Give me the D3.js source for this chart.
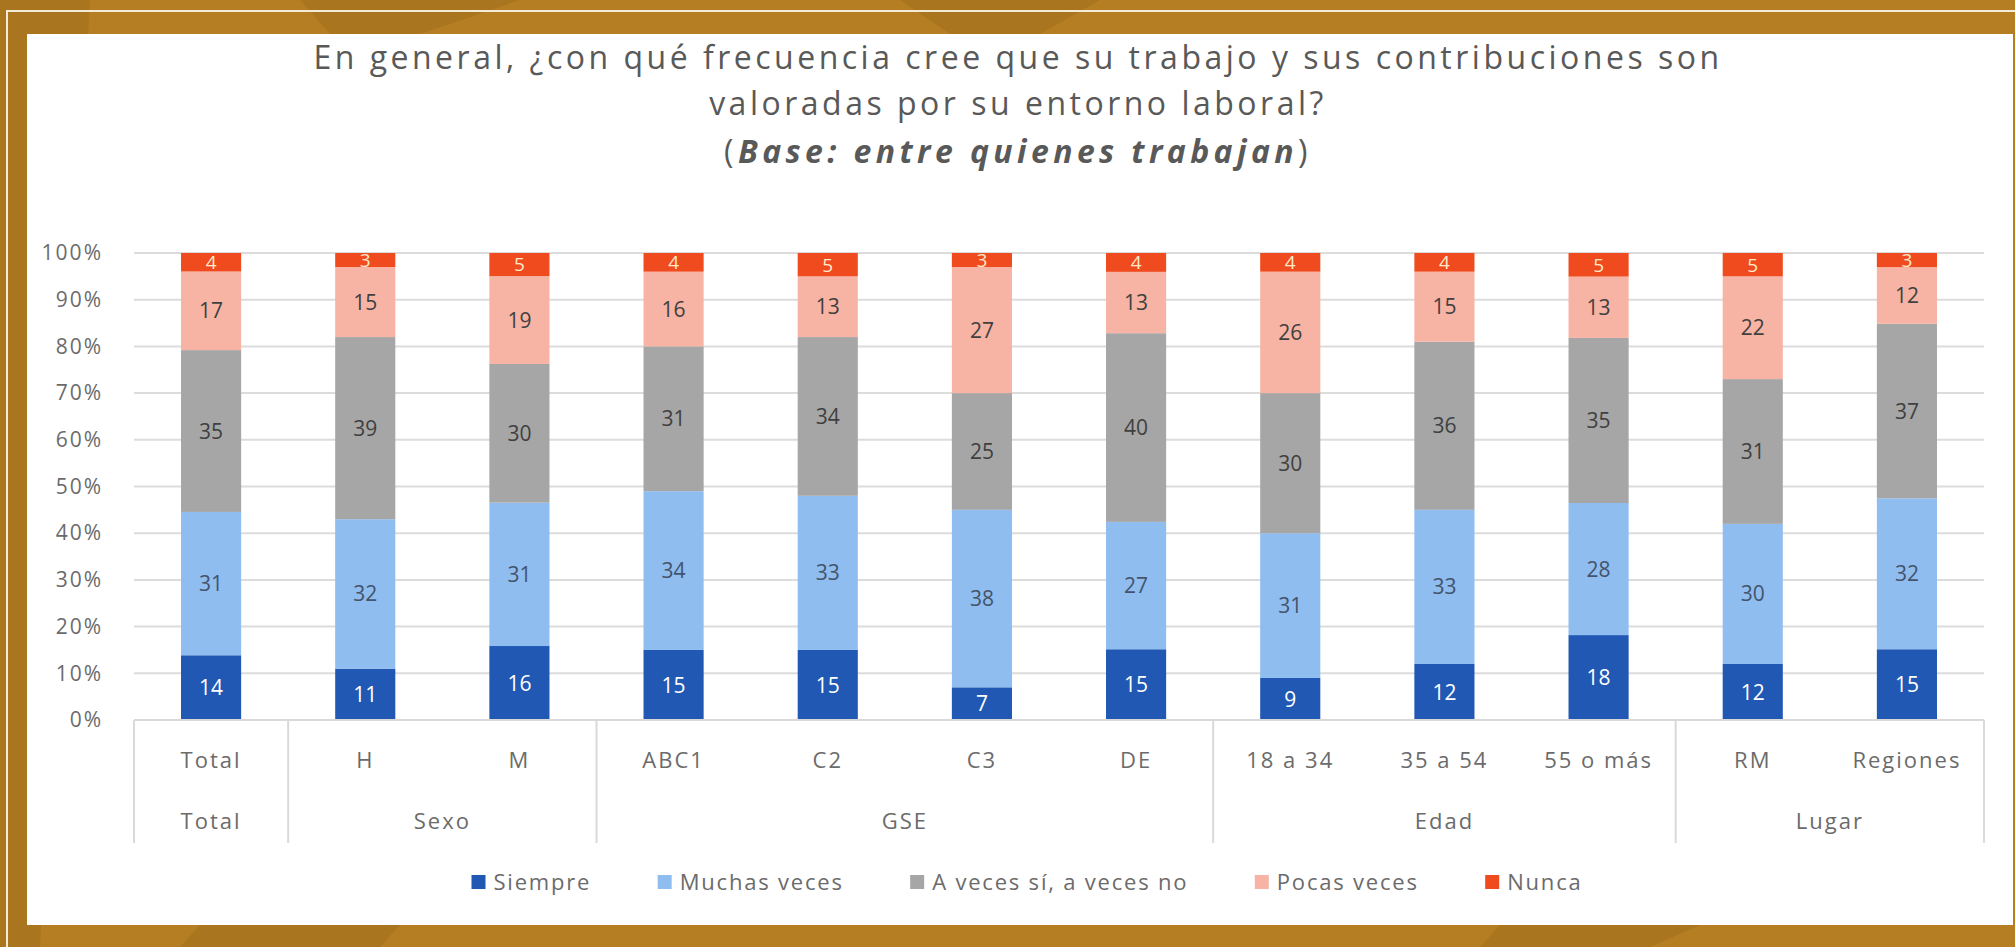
<!DOCTYPE html>
<html>
<head>
<meta charset="utf-8">
<script src="https://cdn.jsdelivr.net/npm/d3@7"></script>
<style>
  html, body { margin: 0; padding: 0; background: #b37b22; }
  svg { display: block; font-family: "Open Sans", "Noto Sans", sans-serif; }
</style>
</head>
<body>
<svg id="chart"></svg>
<script>
// categorías (nivel 1 y nivel 2)
const categories = ["Total", "H", "M", "ABC1", "C2", "C3", "DE", "18 a 34", "35 a 54", "55 o más", "RM", "Regiones"];
const groups = [
  {name: "Total", from: "Total", to: "Total"},
  {name: "Sexo", from: "H", to: "M"},
  {name: "GSE", from: "ABC1", to: "DE"},
  {name: "Edad", from: "18 a 34", to: "55 o más"},
  {name: "Lugar", from: "RM", to: "Regiones"}
];
const seriesNames = ["Siempre", "Muchas veces", "A veces sí, a veces no", "Pocas veces", "Nunca"];
const siempre     = [14, 11, 16, 15, 15, 7, 15, 9, 12, 18, 12, 15];
const muchasVeces = [31, 32, 31, 34, 33, 38, 27, 31, 33, 28, 30, 32];
const aVeces      = [35, 39, 30, 31, 34, 25, 40, 30, 36, 35, 31, 37];
const pocasVeces  = [17, 15, 19, 16, 13, 27, 13, 26, 15, 13, 22, 12];
const nunca       = [4, 3, 5, 4, 5, 3, 4, 4, 4, 5, 5, 3];
const yTicks = [0, 0.1, 0.2, 0.3, 0.4, 0.5, 0.6, 0.7, 0.8, 0.9, 1];

const colors = ["#2058b3", "#8fbdf0", "#a6a6a6", "#f7b3a4", "#ef4b1f"];
const labelColors = ["#ffffff", "#44546a", "#404040", "#404040", "#ffe9c9"];

const width = 2015, height = 947;
const svg = d3.select("#chart").attr("width", width).attr("height", height);

// fondo dorado
svg.append("rect").attr("width", width).attr("height", height).attr("fill", "#b57e23");
const tex = [
  "M0,0 L90,0 L40,947 L0,947Z",
  "M300,0 L520,0 L420,34 L330,34Z",
  "M900,0 L1100,0 L1040,34 L950,34Z",
  "M1500,925 L1700,925 L1650,947 L1480,947Z",
  "M200,925 L400,925 L380,947 L180,947Z"
];
svg.selectAll(".tex").data(tex).enter().append("path")
  .attr("d", d => d).attr("fill", "#8a5a12").attr("opacity", 0.25);
// marco blanco fino
svg.append("rect").attr("x", 7).attr("y", 11).attr("width", 2030).attr("height", 960)
  .attr("fill", "none").attr("stroke", "#f4ead8").attr("stroke-width", 2);
// panel blanco
svg.append("rect").attr("x", 27).attr("y", 34).attr("width", 1986).attr("height", 891).attr("fill", "#ffffff");

// Escalas
const x = d3.scaleBand().domain(categories).range([134, 1984]).paddingInner(0.61).paddingOuter(0.305);
const y = d3.scaleLinear().domain([0, 1]).range([720, 253]);
const step = x.step();
const left = 134, right = 1984;

// Título
const title = svg.append("g").attr("fill", "#595959").attr("text-anchor", "middle")
  .style("font-size", "32px").style("letter-spacing", "3.5px");
title.append("text").attr("x", 1018).attr("y", 69)
  .text("En general, ¿con qué frecuencia cree que su trabajo y sus contribuciones son");
title.append("text").attr("x", 1018).attr("y", 115).text("valoradas por su entorno laboral?");
const t3 = title.append("text").attr("x", 1018).attr("y", 163).style("letter-spacing", "4.4px");
t3.append("tspan").text("(");
t3.append("tspan").attr("font-weight", "bold").attr("font-style", "italic").text("Base: entre quienes trabajan");
t3.append("tspan").text(")");

// Cuadrícula
svg.append("g").selectAll("line").data(yTicks).enter().append("line")
  .attr("x1", left).attr("x2", right)
  .attr("y1", d => y(d)).attr("y2", d => y(d))
  .attr("stroke", "#dcdcdc").attr("stroke-width", 2);

// Eje Y
const yAxis = svg.append("g").attr("transform", "translate(112,0)")
  .call(d3.axisLeft(y).tickValues(yTicks).tickFormat(d3.format(".0%")).tickSize(0).tickPadding(9));
yAxis.select(".domain").remove();
yAxis.selectAll("text").attr("fill", "#6b6b6b").style("font-size", "21px")
  .style("font-family", "Open Sans").style("letter-spacing", "2px");

// Datos apilados (100%)
const rows = categories.map((c, i) => {
  const vals = [siempre[i], muchasVeces[i], aVeces[i], pocasVeces[i], nunca[i]];
  const total = d3.sum(vals);
  const r = {cat: c};
  seriesNames.forEach((s, k) => { r[s] = vals[k] / total; r["raw_" + s] = vals[k]; });
  return r;
});
const stack = d3.stack().keys(seriesNames)(rows);

const layers = svg.append("g").selectAll("g").data(stack).enter().append("g")
  .attr("fill", (d, i) => colors[i]);
layers.selectAll("rect").data(d => d).enter().append("rect")
  .attr("x", d => x(d.data.cat))
  .attr("width", x.bandwidth())
  .attr("y", d => y(d[1]))
  .attr("height", d => y(d[0]) - y(d[1]));

// Etiquetas de datos
stack.forEach((layer, i) => {
  svg.append("g").selectAll("text").data(layer).enter().append("text")
    .attr("x", d => x(d.data.cat) + x.bandwidth() / 2)
    .attr("y", d => (y(d[0]) + y(d[1])) / 2)
    .attr("dy", "0.36em")
    .attr("text-anchor", "middle")
    .attr("fill", labelColors[i])
    .style("font-size", i === 4 ? "19px" : "21px")
    .text(d => d.data["raw_" + layer.key]);
});

// Eje de categorías con dos niveles
const axisG = svg.append("g").attr("stroke", "#d9d9d9").attr("stroke-width", 2);
axisG.append("line").attr("x1", left).attr("x2", right).attr("y1", y(0)).attr("y2", y(0));
const boundaries = [left].concat(groups.map(g => x(g.to) + x.bandwidth() + (step - x.bandwidth()) / 2));
axisG.selectAll(".sep").data(boundaries).enter().append("line")
  .attr("x1", d => d).attr("x2", d => d).attr("y1", y(0)).attr("y2", 843);

svg.append("g").selectAll("text").data(categories).enter().append("text")
  .attr("x", d => x(d) + x.bandwidth() / 2).attr("y", 768)
  .attr("text-anchor", "middle").attr("fill", "#6b6b6b")
  .style("font-size", "22px").style("letter-spacing", "2px")
  .text(d => d);

svg.append("g").selectAll("text").data(groups).enter().append("text")
  .attr("x", g => (x(g.from) + x(g.to) + x.bandwidth()) / 2).attr("y", 829)
  .attr("text-anchor", "middle").attr("fill", "#6b6b6b")
  .style("font-size", "22px").style("letter-spacing", "2px")
  .text(g => g.name);

// Leyenda
const legend = svg.append("g");
const items = legend.selectAll("g").data(seriesNames).enter().append("g");
items.append("rect").attr("width", 14).attr("height", 14).attr("y", -7).attr("fill", (d, i) => colors[i]);
items.append("text").attr("x", 22).attr("dy", "0.36em").attr("fill", "#6b6b6b")
  .style("font-size", "22px").style("letter-spacing", "1.8px").text(d => d);
const widths = [];
items.each(function() { widths.push(this.getBBox().width); });
const legendW = 1111;
const gap = Math.max(20, (legendW - d3.sum(widths)) / (widths.length - 1));
let cx = 1027 - (d3.sum(widths) + gap * (widths.length - 1)) / 2;
items.each(function(d, i) {
  d3.select(this).attr("transform", `translate(${cx},882)`);
  cx += widths[i] + gap;
});
</script>
</body>
</html>
